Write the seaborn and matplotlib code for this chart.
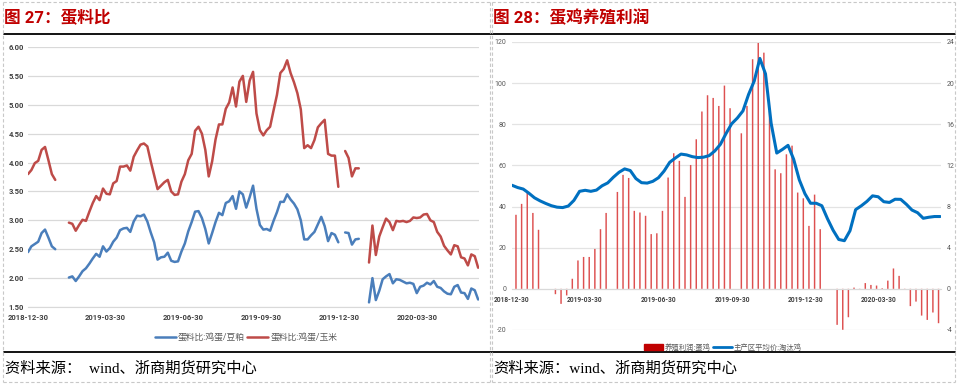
import numpy as np
import pandas as pd
import seaborn as sns
import matplotlib.pyplot as plt
import matplotlib.dates as mdates
from matplotlib.lines import Line2D
from matplotlib.patches import Patch

sns.set_style('white')
plt.rcParams['font.family'] = ['Roboto', 'Noto Sans CJK SC', 'DejaVu Sans']
plt.rcParams['axes.unicode_minus'] = False

nan = np.nan

# 图27：蛋料比，每4天一个点，空缺为节假日无数据
ratio_dates = pd.date_range('2018-12-30', periods=133, freq='4D')
egg_soymeal = [2.45, 2.55, 2.59, 2.63, 2.78, 2.84, 2.70, 2.55, 2.50,
               nan, nan, nan,
               2.01, 2.03, 1.95, 2.03, 2.12, 2.17, 2.25, 2.34, 2.42, 2.37,
               2.55, 2.46, 2.52, 2.63, 2.70, 2.83, 2.86, 2.87, 2.80, 2.98,
               3.08, 3.07, 3.10, 2.98, 2.79, 2.62, 2.32, 2.36, 2.37, 2.44,
               2.30, 2.28, 2.29, 2.46, 2.60, 2.81, 2.97, 3.15, 3.16, 3.04,
               2.85, 2.60, 2.78, 2.97, 3.13, 3.09, 3.30, 3.33, 3.42, 3.20, 3.50,
               3.45, 3.22, 3.40, 3.60, 3.20, 2.92, 2.84, 2.85, 2.82, 2.99,
               3.14, 3.32, 3.32, 3.45, 3.36, 3.29, 3.19, 3.00, 2.67, 2.67,
               2.74, 2.80, 2.93, 3.06, 2.90, 2.64, 2.78, 2.75, 2.62,
               nan,
               2.79, 2.78, 2.58, 2.67, 2.68,
               nan, nan,
               1.58, 2.00, 1.62, 1.78, 1.98, 2.03, 2.07, 1.91, 1.98, 1.97,
               1.94, 1.91, 1.92, 1.90, 1.74, 1.85, 1.87, 1.92, 1.89, 1.95,
               1.85, 1.83, 1.77, 1.73, 1.72, 1.85, 1.88, 1.75, 1.74, 1.64,
               1.82, 1.79, 1.63]
egg_corn = [3.80, 3.87, 3.99, 4.03, 4.22, 4.27, 4.04, 3.80, 3.70,
            nan, nan, nan,
            2.96, 2.94, 2.82, 2.92, 3.01, 2.99, 3.15, 3.30, 3.42, 3.35,
            3.55, 3.46, 3.45, 3.64, 3.68, 3.93, 3.93, 3.95, 3.86, 4.10,
            4.21, 4.31, 4.33, 4.28, 4.02, 3.78, 3.54, 3.60, 3.66, 3.70,
            3.50, 3.44, 3.45, 3.67, 3.80, 4.04, 4.15, 4.55, 4.62, 4.50,
            4.22, 3.76, 4.02, 4.40, 4.66, 4.66, 4.93, 5.04, 5.30, 4.97, 5.40,
            5.50, 5.05, 5.42, 5.57, 4.85, 4.56, 4.47, 4.56, 4.62, 4.90,
            5.17, 5.55, 5.62, 5.77, 5.55, 5.39, 5.20, 4.92, 4.25, 4.30,
            4.25, 4.39, 4.61, 4.68, 4.74, 4.15, 4.12, 4.12, 3.58,
            nan,
            4.20, 4.08, 3.76, 3.90, 3.90,
            nan, nan,
            2.27, 2.91, 2.40, 2.72, 2.88, 3.03, 2.97, 2.83, 2.99, 2.98,
            2.99, 2.97, 2.99, 3.05, 3.04, 3.05, 3.10, 3.11, 3.00, 2.97,
            2.80, 2.72, 2.56, 2.48, 2.41, 2.57, 2.55, 2.36, 2.34, 2.22,
            2.41, 2.38, 2.18]
ratio_names = ['蛋料比:鸡蛋/豆粕', '蛋料比:鸡蛋/玉米']

# 图28：蛋鸡养殖利润（周度，元/羽）与淘汰鸡价格（元/公斤）
profit_dates = pd.date_range('2019-01-04', periods=76, freq='7D')
profit = [36.0, 41.3, 47.0, 36.9, 28.7, nan, nan, -2.6, -7.3, -3.2,
          4.9, 13.8, 15.5, 15.5, 19.4, 29.0, 36.9, nan, 47.1, 55.4,
          53.9, 37.9, 37.1, 35.5, 26.6, 27.0, 37.9, 54.1, 65.9, 62.2,
          44.7, 60.2, 72.7, 86.2, 94.1, 92.8, 88.9, 98.8,
          87.8, nan, 75.6, 88.9, 111.6, 119.5, 114.8, 86.5, 58.1, 56.2,
          65.4, 69.6, 46.8, 44.0, 30.6, 45.8, 29.0, nan, nan, -17.5,
          -19.9, -13.8, 0.6, -0.5, 2.8, 1.9, 1.6, 0.3, 4.0, 9.9,
          6.3, -0.3, -8.4, -6.2, -13.0, -15.1, -11.5, -16.7]
cull_dates = pd.date_range('2018-12-30', periods=77, freq='7D')
cull_price = [10.07, 9.85, 9.70, 9.30, 8.85, 8.55, 8.30, 8.08, 7.94, 7.90,
              8.05, 8.60, 9.48, 9.58, 9.48, 9.60, 10.02, 10.30, 10.85, 11.33,
              11.66, 11.50, 10.72, 10.32, 10.28, 10.45, 10.80, 11.45, 12.30, 12.72,
              13.10, 13.02, 12.85, 12.76, 12.80, 12.95, 13.40, 14.05, 15.1, 16.05,
              16.6, 17.3, 18.9, 20.2, 22.4, 20.9, 16.1, 13.2, 13.55, 13.95,
              12.6, 10.6, 9.25, 8.32, 8.32, 8.08, 6.82, 5.70, 4.80, 4.68,
              5.65, 7.70, 8.07, 8.50, 9.04, 8.95, 8.47, 8.40, 8.71, 8.70,
              8.22, 7.66, 7.40, 6.86, 6.96, 7.03, 7.03]
profit_names = ['养殖利润:蛋鸡', '主产区平均价:淘汰鸡']

tick_dates = ['2018-12-30', '2019-03-30', '2019-06-30', '2019-09-30', '2019-12-30', '2020-03-30']

blue, red = '#4a7ebb', '#be4b48'
grid_c = '#d9d9d9'

fig = plt.figure(figsize=(9.58, 3.85), dpi=100)

# ---------- 左图：蛋料比 ----------
ax1 = fig.add_axes([0.0292, 0.2026, 0.4708, 0.6753])
parts = []
for name, vals in zip(ratio_names, [egg_soymeal, egg_corn]):
    s = pd.Series(vals, dtype=float)
    parts.append(pd.DataFrame({'date': ratio_dates, 'value': s,
                               'series': name, 'seg': s.isna().cumsum()}))
ratio_df = pd.concat(parts, ignore_index=True).dropna()
sns.lineplot(data=ratio_df, x='date', y='value', hue='series', units='seg',
             estimator=None, palette=[blue, red], lw=1.8, legend=False, ax=ax1)
for sp in ['top', 'right', 'left']:
    ax1.spines[sp].set_visible(False)
ax1.spines['bottom'].set_color(grid_c)
ax1.set_xlim(pd.Timestamp('2018-12-30'), pd.Timestamp('2020-06-11'))
ax1.set_ylim(1.5, 6.0)
yt = np.arange(1.5, 6.01, 0.5)
ax1.set_yticks(yt, [f'{v:.2f}' for v in yt], fontsize=5.5, fontweight='bold', color='#404040')
ax1.set_xticks(pd.to_datetime(tick_dates), tick_dates, fontsize=5.5, fontweight='bold', color='#404040')
ax1.tick_params(axis='y', length=0, pad=3)
ax1.tick_params(axis='x', length=3, color='#bfbfbf', pad=2)
ax1.yaxis.grid(True, color=grid_c, lw=0.9)
ax1.xaxis.grid(False)
ax1.set_xlabel('')
ax1.set_ylabel('')

fig.legend([Line2D([], [], color=blue, lw=1.8), Line2D([], [], color=red, lw=1.8)],
           ratio_names, loc='center', bbox_to_anchor=(0.2568, 0.1221), ncol=2,
           frameon=False, fontsize=6.3, handlelength=2.4, handletextpad=0.3,
           columnspacing=0.2, labelcolor='#595959')

# ---------- 右图：蛋鸡养殖利润 ----------
ax2 = fig.add_axes([0.5344, 0.1429, 0.4478, 0.7481])
bar_df = pd.DataFrame({'x': mdates.date2num(profit_dates), 'y': profit}).dropna()
sns.barplot(data=bar_df, x='x', y='y', native_scale=True, width=0.26, color='#dd5050',
            saturation=1, errorbar=None, linewidth=0, ax=ax2)
for p in ax2.patches:
    p.set_snap(False)
ax3 = ax2.twinx()
sns.lineplot(x=mdates.date2num(cull_dates), y=cull_price, color='#0070c0', lw=2.2, ax=ax3)

for sp in ['top', 'right', 'left']:
    ax2.spines[sp].set_visible(False)
    ax3.spines[sp].set_visible(False)
ax3.spines['bottom'].set_visible(False)
ax2.spines['bottom'].set_position(('data', 0))
ax2.spines['bottom'].set_color(grid_c)

ax2.set_xlim(mdates.date2num(pd.Timestamp('2018-12-30')), mdates.date2num(pd.Timestamp('2020-06-15')))
ax2.set_ylim(-20, 120)
ax3.set_ylim(-4, 24)
lt = np.arange(-20, 121, 20)
ax2.set_yticks(lt, [str(v) for v in lt], fontsize=5, color='#595959')
rt = np.arange(-4, 25, 4)
ax3.set_yticks(rt, [str(v) for v in rt], fontsize=5, color='#595959')
ax2.set_xticks(mdates.date2num(pd.to_datetime(tick_dates)), tick_dates,
               fontsize=4.8, fontweight='bold', color='#404040')
ax2.tick_params(axis='y', length=0, pad=4)
ax3.tick_params(axis='y', length=0, pad=4)
ax2.tick_params(axis='x', length=3, color='#bfbfbf', pad=2)
ax2.set_axisbelow(True)
ax2.yaxis.grid(True, color='#e3e3e3', lw=0.9)
ax2.xaxis.grid(False)
for a in (ax2, ax3):
    a.set_xlabel('')
    a.set_ylabel('')

fig.legend([Patch(color='#c00000'), Line2D([], [], color='#0070c0', lw=2)],
           profit_names, loc='center', bbox_to_anchor=(0.7547, 0.0961), ncol=2,
           frameon=False, fontsize=5.3, handlelength=2.6, handleheight=0.9,
           handletextpad=0.3, columnspacing=0.2, labelcolor='#595959')

# ---------- 标题、分隔线、资料来源 ----------
title_c = '#c00000'
fig.text(4 / 958, 1 - 17.5 / 385, '图 27：蛋料比', color=title_c, fontsize=12,
         fontweight='bold', va='center', ha='left')
fig.text(493 / 958, 1 - 17.5 / 385, '图 28：蛋鸡养殖利润', color=title_c, fontsize=12,
         fontweight='bold', va='center', ha='left')

for yy in (34, 352):
    fig.add_artist(Line2D([4 / 958, 955 / 958], [1 - yy / 385] * 2, color='black', lw=1.3))
dash = dict(color='#c8c8c8', lw=0.8, linestyle=(0, (3, 2)))
for xx in (3, 490, 492, 955):
    fig.add_artist(Line2D([xx / 958] * 2, [1 - 2 / 385, 1 - 382 / 385], **dash))
for yy in (2, 382):
    fig.add_artist(Line2D([3 / 958, 955 / 958], [1 - yy / 385] * 2, **dash))

src_font = ['Liberation Serif', 'Noto Sans CJK SC']
fig.text(5 / 958, 1 - 368 / 385, '资料来源：  wind、浙商期货研究中心', family=src_font,
         fontsize=11, va='center', ha='left', color='black')
fig.text(493 / 958, 1 - 368 / 385, '资料来源：wind、浙商期货研究中心', family=src_font,
         fontsize=11, va='center', ha='left', color='black')

fig.savefig('out.png', dpi=100)
